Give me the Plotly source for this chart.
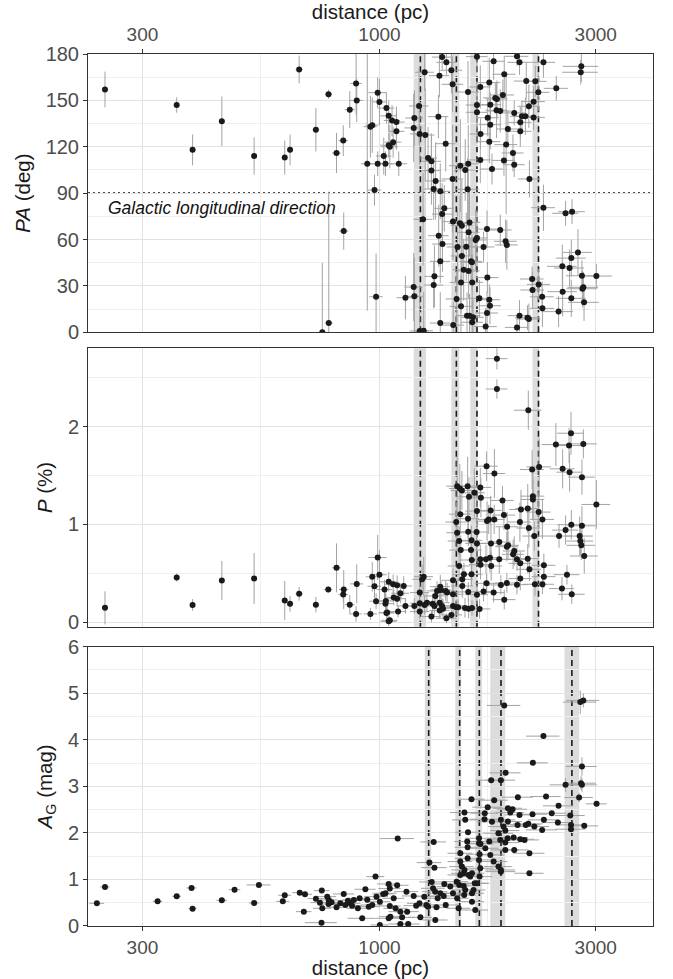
import math
import plotly.graph_objects as go

# ---------------- data ----------------
x_ticks = [300, 1000, 3000]
x_tick_labels = ["300", "1000", "3000"]
x_minor = [547.7, 1732.1]

# components (distance bands, pc) for PA and P panels
pp_bands = [(1190, 1267), (1441, 1500), (1586, 1646), (2176, 2251)]
pp_lines = [1231, 1478, 1641, 2243]
# components for A_G panel
ag_bands = [(1259, 1300), (1470, 1514), (1627, 1684), (1756, 1895), (2560, 2758)]
ag_lines = [1284, 1503, 1661, 1854, 2658]

# ---- PA panel ----
pa_dist = [248, 357, 387, 449, 529, 618, 635, 665, 724, 748,
           772, 773, 804, 832, 834, 860, 888, 891, 940, 955,
           964, 975, 983, 991, 991, 1000, 1022, 1031, 1036, 1048,
           1048, 1066, 1090, 1090, 1054, 1072, 1103,
           1375, 1405, 1641, 1786, 2011, 2037, 2300, 1258, 1441, 1356,
           1450, 1568, 1669, 1747, 1801, 1816, 1872, 1756, 1885, 2108,
           2207, 2241, 2455, 2188, 2136, 2062, 2099, 1983, 2045, 2045,
           1920, 1813, 1847, 1756, 1641, 1641, 1733, 1671, 1747, 1223,
           1194, 1190, 1227, 1262, 1349, 1400, 1903, 1970, 1882, 1983,
           1280, 1302, 1302, 1330, 1317, 1362, 1450, 1508, 1546, 1570,
           1565, 1669, 1771, 2142, 2300, 2574, 2660, 1248, 1375, 1390,
           1453, 1505, 1520, 1580, 1573, 1641, 1630, 1727, 1847, 1898,
           1910, 1351, 1377, 1487, 1554, 1592, 1600, 1520, 1362, 1534,
           1573, 1697, 1322, 1190, 1194, 1317, 1730, 1513, 1602, 2172,
           2245, 2176, 2285, 1141, 1480, 1513, 1661, 1747, 1753, 1727,
           1560, 1580, 1608, 1362, 1227, 1252, 1455, 1602, 1715, 2011,
           2037, 2136, 2121, 2288,
           2788, 2780, 2188, 2741, 2650, 2532, 2627, 2797, 3010, 2817,
           2804, 2536, 2650, 2827, 2484]
pa_deg = [157, 147, 118, 136.5, 114, 113, 118, 170, 131, 0,
          154, 6, 116, 124, 65.5, 144, 161, 150, 109, 133,
          134, 92, 23, 155, 109, 149, 114, 109, 145, 140,
          121, 137, 136, 130, 120, 123, 109,
          178, 174.6, 178.3, 175.3, 178.5, 174.6, 174.6, 168.2, 169.5, 166,
          160.4, 155.4, 158.7, 161.5, 151.6, 150.9, 153.5, 147.2, 166.9, 162.5,
          162.3, 155.2, 157.8, 149.2, 146.2, 139.7, 139.7, 141.9, 135.8, 130,
          131.5, 143.6, 143.1, 134.3, 142.3, 147, 138.8, 128.3, 123.3, 146.4,
          138.6, 132.2, 128.3, 127.6, 139.5, 122, 121.4, 116, 111.2, 108.4,
          112.7, 110.6, 104.6, 97.9, 92.7, 91.2, 99.2, 107.8, 105, 109,
          92.5, 111.5, 105.6, 99.2, 80.6, 77, 78, 73.1, 76.5, 80.2,
          71.6, 70.5, 69, 71.1, 64.7, 61, 59.7, 66.8, 66.2, 58.9,
          56.5, 62.5, 57.1, 55.2, 55.4, 45.9, 45.3, 49.4, 45.9, 40.5,
          39.7, 55.2, 36.2, 29.3, 23.3, 30.6, 35.4, 32.3, 32.3, 34.5,
          31, 27.4, 23, 22.4, 21.6, 16.8, 22, 21.1, 17.2, 12.5,
          10.8, 10.8, 9.7, 6, 0.9, 1, 4.7, 6.5, 3.7, 3.2,
          10.8, 8.6, 9.5, 15.5,
          172, 168.2, 139, 51.7, 48, 42.7, 41.6, 36.6, 36.4, 29.1,
          28.2, 26.3, 22, 19.4, 13.4]
pa_deg_err = [11.6, 5, 10, 16, 12, 11, 10, 9, 14, 45,
              3, 85, 13, 10, 12, 12, 20, 14, 95, 20,
              18, 10, 28, 10, 8, 15, 12, 8, 10, 10,
              8, 10, 10, 12, 14, 10, 8,
              8, 8, 10, 12, 6, 8, 10, 12, 15, 14,
              18, 20, 14, 16, 10, 12, 10, 8, 12, 12,
              10, 12, 8, 10, 14, 10, 12, 8, 10, 10,
              12, 18, 14, 16, 20, 15, 12, 10, 14, 25,
              18, 22, 20, 30, 14, 18, 45, 12, 10, 8,
              20, 18, 22, 25, 20, 18, 35, 30, 20, 25,
              20, 15, 10, 12, 15, 8, 8, 30, 20, 15,
              25, 18, 30, 22, 20, 18, 20, 12, 10, 14,
              16, 20, 18, 25, 22, 15, 18, 16, 14, 20,
              18, 10, 20, 22, 25, 15, 10, 20, 18, 8,
              10, 12, 10, 14, 18, 20, 12, 10, 12, 14,
              15, 14, 12, 20, 30, 25, 15, 14, 12, 8,
              10, 10, 8, 12,
              10, 8, 8, 15, 12, 14, 12, 10, 8, 10,
              12, 16, 12, 12, 10]
pa_dist_err = [3, 4, 4, 5, 6, 8, 8, 12, 12, 14,
               14, 16, 18, 20, 20, 22, 26, 30, 30, 32,
               32, 34, 34, 46, 36, 38, 40, 40, 42, 44,
               44, 44, 46, 46, 44, 46, 48,
               70, 70, 90, 100, 120, 120, 140, 60, 80, 70,
               80, 90, 90, 100, 110, 100, 110, 100, 110, 130,
               130, 130, 150, 130, 120, 120, 120, 110, 120, 120,
               110, 100, 110, 100, 90, 90, 100, 90, 100, 60,
               55, 55, 60, 60, 70, 70, 110, 110, 110, 110,
               60, 65, 65, 70, 65, 70, 80, 85, 85, 90,
               90, 90, 100, 120, 140, 170, 180, 60, 70, 70,
               80, 85, 85, 90, 90, 90, 90, 100, 110, 110,
               110, 70, 70, 80, 85, 90, 90, 85, 70, 85,
               90, 95, 65, 55, 55, 65, 100, 85, 90, 130,
               130, 130, 140, 50, 80, 85, 95, 100, 100, 100,
               85, 90, 90, 70, 60, 60, 80, 90, 100, 120,
               120, 130, 130, 140,
               250, 250, 130, 200, 200, 190, 200, 220, 250, 220,
               220, 190, 200, 220, 190]

# ---- P panel ----
p_dist = [248, 357, 387, 449, 529, 618, 635, 665, 724, 771,
          804, 832, 834, 860, 888, 891, 955, 964, 975, 983,
          991, 1000, 1026, 1031, 1036, 1048, 1048,
          1816, 1816, 2130, 2450, 2620, 2646, 2817, 2536, 2627, 2797,
          3010, 1723, 1793, 2172, 2250, 1484, 1504, 1520, 1565, 1619,
          1669, 1674, 1576, 2180, 2180, 1868, 2052, 2124, 2245, 2288,
          1508, 1641, 1759, 1742, 1727, 1791, 1882, 1913, 2041, 2136,
          2196, 1477, 1568, 1570, 1638, 1596, 1592, 1641, 1484, 1499,
          1511, 1669, 1598, 1718, 1753, 1762, 1764, 1838, 1838, 1910,
          1922, 1983, 1972, 2011, 2045, 2124, 2142, 2305, 2305, 2288,
          2203, 2045, 2011, 1910, 1853, 1786, 1885, 1723, 1697, 1671,
          1663, 1641, 1573, 1570, 1596, 1536, 1523, 1523, 1499, 1453,
          1453, 1453, 1477, 1544, 1600, 1400, 1362, 1367, 1340, 1328,
          1310, 1322, 1358, 1374, 1358, 1302, 1381, 1405, 1273, 1258,
          1252, 1242, 1227, 1227, 1227, 1194, 1141, 1054, 1040, 1033,
          1072, 1094, 1075, 1094, 1131, 1112, 1099, 1441, 1491, 1410,
          2592, 2527, 2656, 2650, 2574, 2490, 2797, 2765, 2774, 2788,
          2830]
p_pct = [0.147, 0.457, 0.177, 0.427, 0.447, 0.222, 0.188, 0.29, 0.18, 0.334,
         0.556, 0.283, 0.334, 0.18, 0.085, 0.392, 0.085, 0.464, 0.368, 0.215,
         0.662, 0.485, 0.334, 0.19, 0.095, 0.413, 0.01,
         2.694, 2.384, 2.167, 1.816, 1.806, 1.932, 1.823, 1.568, 1.534, 1.483,
         1.204, 1.595, 1.52, 1.561, 1.588, 1.391, 1.367, 1.347, 1.391, 1.323,
         1.378, 1.272, 1.282, 1.289, 1.255, 1.245, 1.153, 1.163, 1.126, 1.051,
         1.105, 1.136, 1.143, 1.051, 1.034, 1.051, 1.095, 0.976, 1.024, 0.963,
         0.881, 1.024, 1.058, 0.925, 0.922, 0.837, 0.738, 0.806, 0.915, 0.83,
         0.738, 0.643, 0.636, 0.643, 0.66, 0.806, 0.575, 0.643, 0.82, 0.772,
         0.786, 0.728, 0.694, 0.643, 0.602, 0.65, 0.541, 0.582, 0.466, 0.388,
         0.388, 0.446, 0.384, 0.401, 0.381, 0.303, 0.231, 0.398, 0.313, 0.588,
         0.136, 0.282, 0.139, 0.31, 0.49, 0.49, 0.439, 0.371, 0.575, 0.429,
         0.286, 0.167, 0.153, 0.146, 0.146, 0.32, 0.364, 0.33, 0.32, 0.269,
         0.19, 0.167, 0.2, 0.167, 0.119, 0.058, 0.139, 0.041, 0.2, 0.177,
         0.466, 0.439, 0.303, 0.194, 0.109, 0.167, 0.167, 0.02, 0.099, 0.218,
         0.388, 0.378, 0.252, 0.241, 0.371, 0.296, 0.109, 0.075, 0.153, 0.303,
         0.486, 0.344, 0.286, 0.997, 0.942, 0.881, 0.986, 0.881, 0.83, 0.786,
         0.677]
p_pct_err = [0.17, 0.04, 0.06, 0.2, 0.26, 0.2, 0.08, 0.07, 0.08, 0.03,
             0.25, 0.08, 0.2, 0.1, 0.08, 0.2, 0.06, 0.15, 0.12, 0.08,
             0.23, 0.25, 0.1, 0.1, 0.06, 0.1, 0.05,
             0.11, 0.1, 0.2, 0.22, 0.18, 0.22, 0.15, 0.2, 0.2, 0.18,
             0.25, 0.15, 0.25, 0.2, 0.3, 0.3, 0.25, 0.2, 0.3, 0.25,
             0.2, 0.2, 0.2, 0.25, 0.2, 0.15, 0.2, 0.25, 0.2, 0.2,
             0.2, 0.2, 0.15, 0.15, 0.2, 0.15, 0.15, 0.15, 0.2, 0.2,
             0.15, 0.2, 0.2, 0.15, 0.2, 0.15, 0.15, 0.2, 0.2, 0.15,
             0.15, 0.15, 0.15, 0.15, 0.15, 0.2, 0.15, 0.15, 0.15, 0.15,
             0.15, 0.15, 0.15, 0.12, 0.12, 0.15, 0.12, 0.12, 0.12, 0.1,
             0.12, 0.12, 0.1, 0.1, 0.1, 0.1, 0.1, 0.1, 0.1, 0.15,
             0.1, 0.1, 0.1, 0.1, 0.12, 0.12, 0.12, 0.12, 0.15, 0.12,
             0.1, 0.08, 0.08, 0.1, 0.08, 0.1, 0.12, 0.1, 0.1, 0.1,
             0.1, 0.1, 0.1, 0.08, 0.08, 0.06, 0.1, 0.05, 0.1, 0.1,
             0.2, 0.15, 0.1, 0.1, 0.08, 0.08, 0.08, 0.04, 0.06, 0.1,
             0.1, 0.1, 0.08, 0.08, 0.1, 0.1, 0.06, 0.05, 0.08, 0.1,
             0.1, 0.12, 0.1, 0.15, 0.15, 0.12, 0.2, 0.2, 0.15, 0.15,
             0.18]
p_dist_err = [3, 4, 4, 5, 6, 8, 8, 12, 12, 16,
              18, 20, 20, 22, 26, 30, 32, 32, 34, 34,
              46, 38, 40, 40, 42, 44, 44,
              100, 100, 150, 170, 170, 180, 200, 160, 170, 190,
              220, 100, 100, 130, 140, 80, 80, 85, 90, 90,
              95, 95, 90, 130, 130, 110, 120, 130, 140, 140,
              85, 95, 100, 100, 100, 100, 110, 110, 120, 130,
              130, 80, 90, 90, 95, 90, 90, 95, 80, 85,
              85, 95, 90, 100, 100, 100, 100, 110, 110, 110,
              110, 110, 110, 120, 120, 130, 130, 140, 140, 140,
              130, 120, 120, 110, 110, 100, 110, 100, 95, 95,
              95, 95, 90, 90, 90, 85, 85, 85, 85, 80,
              80, 80, 80, 85, 90, 75, 70, 70, 70, 70,
              65, 70, 70, 70, 70, 65, 70, 75, 65, 60,
              60, 60, 60, 60, 60, 55, 50, 42, 40, 40,
              45, 48, 45, 48, 50, 50, 48, 80, 85, 75,
              170, 160, 180, 180, 170, 160, 200, 190, 190, 200,
              200]

# ---- A_G panel ----
ag_dist = [238, 248, 324, 357, 385, 387, 449, 479, 529, 542,
           612, 618, 667, 685, 681, 724, 746, 739, 748, 745,
           767, 773, 784, 804, 834, 820, 841, 852, 863, 878,
           896, 904, 916, 931, 940, 947, 964, 980, 985, 1002,
           1002, 1019, 1031, 1048, 1048,
           1054, 1094, 1097, 1075, 1054, 1085, 1112, 1057, 1122, 1112,
           1157, 1151, 1147, 1190, 1205, 1225, 1231, 1256, 1269, 1280,
           1289, 1322, 1317, 1304, 1313, 1327, 1328, 1336, 1344, 1362,
           1390, 1386, 1400, 1433, 1453, 772, 870,
           1885, 2300, 2774, 2817, 2180, 2797, 1898, 1764, 1853, 2574,
           2784, 2797, 3013, 2757, 2331, 2020, 1791, 1596, 1733, 1707,
           1705, 1540, 1920, 1966, 1944, 2037, 1920, 2017, 2103, 2130,
           2176, 2196, 2285, 2305, 2399, 2484, 2475, 2636, 2646, 2646,
           2830, 1853, 1878, 1771, 1895, 1830, 1917, 1977, 2045, 2090,
           2142, 2142, 1895, 1983, 1895, 1847, 1747, 1712, 1756, 1786,
           1830, 1853, 1853, 1658, 1658, 1663, 1671, 1568, 1562, 1565,
           1546, 1658, 1669, 1663, 1627, 1622, 1600, 1565, 1508, 1508,
           1520, 1534, 1540, 1508, 1500, 1480, 1600, 1600, 1641, 1573,
           1546, 1495, 1484, 1538, 1534, 1613, 1586]
ag_mag = [0.487, 0.839, 0.53, 0.638, 0.817, 0.373, 0.552, 0.781, 0.495, 0.882,
          0.53, 0.66, 0.717, 0.681, 0.308, 0.588, 0.76, 0.502, 0.38, 0.072,
          0.631, 0.559, 0.509, 0.401, 0.688, 0.487, 0.452, 0.545, 0.487, 0.559,
          0.38, 0.595, 0.165, 0.789, 0.566, 0.416, 0.452, 1.061, 0.631, 0.523,
          0.022, 0.688, 0.703, 0.903, 0.165,
          0.803, 0.875, 1.878, 0.595, 0.43, 0.38, 0.308, 0.201, 0.186, 0.043,
          0.043, 0.308, 0.738, 0.645, 0.437, 0.487, 0.186, 0.631, 0.452, 0.416,
          1.362, 1.254, 1.806, 0.946, 0.81, 0.738, 0.129, 0.401, 0.595, 0.703,
          0.903, 0.645, 0.452, 0.846, 0.703, 0.473, 0.437,
          4.738, 4.079, 4.81, 4.846, 3.505, 3.427, 3.29, 3.133, 3.133, 3.032,
          3.068, 3.032, 2.624, 2.76, 2.781, 2.767, 2.703, 2.724, 2.552, 2.423,
          2.294, 2.437, 2.53, 2.509, 2.437, 2.387, 2.244, 2.172, 2.172, 2.194,
          2.401, 2.136, 2.065, 2.28, 2.423, 2.581, 2.222, 2.373, 2.172, 2.079,
          2.151, 2.28, 2.136, 2.237, 2.05, 1.993, 1.885, 1.9, 1.864, 1.849,
          1.563, 1.133, 1.634, 1.634, 1.792, 1.849, 1.814, 1.67, 1.527, 1.384,
          1.276, 1.204, 1.168, 1.885, 1.778, 1.541, 1.763, 2.014, 1.814, 1.692,
          2.28, 1.419, 1.24, 1.061, 0.344, 0.918, 1.133, 1.455, 1.563, 1.384,
          1.276, 1.133, 1.204, 1.097, 0.882, 0.953, 0.703, 0.523, 0.918, 1.097,
          0.774, 0.38, 0.595, 0.667, 0.86, 0.774, 1.061]
ag_mag_err = [0.02, 0.02, 0.02, 0.02, 0.02, 0.02, 0.02, 0.02, 0.02, 0.02,
              0.02, 0.02, 0.02, 0.02, 0.02, 0.02, 0.02, 0.02, 0.02, 0.02,
              0.02, 0.02, 0.02, 0.02, 0.02, 0.02, 0.02, 0.02, 0.02, 0.02,
              0.02, 0.02, 0.02, 0.02, 0.02, 0.02, 0.02, 0.02, 0.02, 0.02,
              0.02, 0.02, 0.02, 0.02, 0.02,
              0.03, 0.03, 0.05, 0.03, 0.03, 0.03, 0.03, 0.03, 0.03, 0.03,
              0.03, 0.03, 0.03, 0.03, 0.03, 0.03, 0.03, 0.03, 0.03, 0.03,
              0.04, 0.04, 0.05, 0.03, 0.03, 0.03, 0.03, 0.03, 0.03, 0.03,
              0.03, 0.03, 0.03, 0.03, 0.03, 0.03, 0.03,
              0.05, 0.05, 0.25, 0.15, 0.05, 0.2, 0.05, 0.05, 0.05, 0.15,
              0.15, 0.15, 0.05, 0.1, 0.05, 0.05, 0.05, 0.05, 0.05, 0.05,
              0.04, 0.04, 0.04, 0.04, 0.04, 0.04, 0.04, 0.04, 0.04, 0.04,
              0.04, 0.04, 0.04, 0.04, 0.04, 0.04, 0.04, 0.04, 0.04, 0.04,
              0.04, 0.04, 0.04, 0.04, 0.04, 0.04, 0.04, 0.04, 0.04, 0.04,
              0.04, 0.04, 0.04, 0.04, 0.04, 0.04, 0.04, 0.04, 0.04, 0.04,
              0.04, 0.04, 0.04, 0.04, 0.04, 0.04, 0.04, 0.04, 0.04, 0.04,
              0.04, 0.04, 0.04, 0.04, 0.04, 0.04, 0.04, 0.04, 0.04, 0.04,
              0.04, 0.04, 0.04, 0.04, 0.04, 0.04, 0.04, 0.04, 0.04, 0.04,
              0.04, 0.04, 0.04, 0.04, 0.04, 0.04, 0.04]
ag_dist_err = [9, 6, 8, 8, 10, 8, 12, 14, 14, 33,
               20, 20, 25, 25, 27, 30, 30, 35, 35, 60,
               35, 35, 40, 40, 45, 40, 45, 45, 45, 50,
               50, 50, 65, 50, 50, 55, 55, 45, 60, 55,
               45, 55, 60, 60, 65,
               60, 65, 95, 60, 60, 65, 65, 60, 70, 65,
               70, 70, 70, 70, 75, 75, 75, 75, 80, 80,
               80, 85, 85, 80, 80, 85, 85, 85, 85, 90,
               90, 90, 90, 95, 95, 40, 45,
               160, 195, 235, 235, 170, 220, 150, 130, 140, 200,
               220, 220, 160, 200, 180, 160, 130, 110, 130, 120,
               120, 110, 140, 150, 140, 150, 140, 150, 160, 160,
               170, 170, 180, 180, 190, 190, 190, 200, 200, 200,
               210, 140, 140, 130, 140, 140, 140, 150, 150, 160,
               170, 160, 140, 150, 140, 140, 130, 120, 130, 130,
               130, 140, 140, 115, 115, 110, 115, 100, 100, 100,
               100, 110, 110, 110, 110, 110, 105, 100, 95, 95,
               95, 95, 100, 95, 90, 90, 100, 100, 105, 100,
               100, 90, 90, 95, 95, 100, 100]

for arrs in [(pa_dist, pa_deg, pa_deg_err, pa_dist_err),
             (p_dist, p_pct, p_pct_err, p_dist_err),
             (ag_dist, ag_mag, ag_mag_err, ag_dist_err)]:
    n = len(arrs[0])
    assert all(len(a) == n for a in arrs), [len(a) for a in arrs]

# ---------------- style ----------------
FONT = "Liberation Sans, Arial, Helvetica, sans-serif"
TICK_FONT = dict(family=FONT, size=20, color="#4d4d4d")
XTICK_FONT = dict(family=FONT, size=19, color="#4d4d4d")
TITLE_FONT = dict(family=FONT, size=20.5, color="#1a1a1a")
MAJOR_GRID = "#e3e3e3"
MINOR_GRID = "#efefef"
ERR_COLOR = "#a3a3a3"
PT_COLOR = "#1a1a1a"
BORDER = "#333333"
BAND_COLOR = "#dcdcdc"
X_RANGE = [math.log10(227.5), math.log10(4013)]

fig = go.Figure()


def add_panel(x, y, xe, ye, xa, ya):
    fig.add_trace(go.Scatter(
        x=x, y=y, mode="markers", xaxis=xa, yaxis=ya,
        marker=dict(size=6, color=PT_COLOR),
        error_x=dict(type="data", array=xe, color=ERR_COLOR, thickness=1, width=0),
        error_y=dict(type="data", array=ye, color=ERR_COLOR, thickness=1, width=0),
        showlegend=False, hoverinfo="skip"))


add_panel(pa_dist, pa_deg, pa_dist_err, pa_deg_err, "x", "y")
add_panel(p_dist, p_pct, p_dist_err, p_pct_err, "x2", "y2")
add_panel(ag_dist, ag_mag, ag_dist_err, ag_mag_err, "x3", "y3")

shapes = []


def add_components(bands, lines, xref, yref):
    for b0, b1 in bands:
        shapes.append(dict(type="rect", xref=xref, yref=yref + " domain",
                           x0=b0, x1=b1, y0=0, y1=1, fillcolor=BAND_COLOR,
                           line=dict(width=0), layer="below"))
    for xv in lines:
        shapes.append(dict(type="line", xref=xref, yref=yref + " domain",
                           x0=xv, x1=xv, y0=0, y1=1,
                           line=dict(color="#1a1a1a", width=1.6, dash="6px,4px"),
                           layer="below"))


add_components(pp_bands, pp_lines, "x", "y")
add_components(pp_bands, pp_lines, "x2", "y2")
add_components(ag_bands, ag_lines, "x3", "y3")

shapes.append(dict(type="line", xref="x domain", yref="y", x0=0, x1=1, y0=90, y1=90,
                   line=dict(color="#111111", width=1.6, dash="2px,3px"), layer="below"))


def xaxis(anchor, side, labels, title=None, standoff=4):
    d = dict(type="log", range=X_RANGE, anchor=anchor, side=side, automargin=False,
             tickvals=x_ticks, ticktext=x_tick_labels, showticklabels=labels,
             ticks="outside" if labels else "", ticklen=4, tickcolor=BORDER,
             showgrid=True, gridcolor=MAJOR_GRID, gridwidth=1.3,
             minor=dict(tickvals=x_minor, showgrid=True, gridcolor=MINOR_GRID,
                        gridwidth=0.8, ticks=""),
             showline=True, mirror=True, linecolor=BORDER, linewidth=1,
             zeroline=False, tickfont=XTICK_FONT)
    if title:
        d["title"] = dict(text=title, font=TITLE_FONT, standoff=standoff)
    return d


def yaxis(domain, rng, ticks, minor_ticks, title):
    return dict(domain=domain, range=rng, tickvals=ticks, automargin=False,
                ticks="outside", ticklen=4, tickcolor=BORDER,
                showgrid=True, gridcolor=MAJOR_GRID, gridwidth=1.3,
                minor=dict(tickvals=minor_ticks, showgrid=True, gridcolor=MINOR_GRID,
                           gridwidth=0.8, ticks=""),
                showline=True, mirror=True, linecolor=BORDER, linewidth=1,
                zeroline=False, tickfont=TICK_FONT,
                title=dict(text=title, font=TITLE_FONT, standoff=9))


fig.update_layout(
    width=673, height=979,
    margin=dict(l=88, r=20, t=54, b=53),
    paper_bgcolor="white", plot_bgcolor="white",
    font=dict(family=FONT),
    xaxis=xaxis("y", "top", True, "distance (pc)", 5),
    xaxis2=xaxis("y2", "bottom", False),
    xaxis3=xaxis("y3", "bottom", True, "distance (pc)", 6),
    yaxis=yaxis([0.6808, 1.0], [0, 180], [0, 30, 60, 90, 120, 150, 180],
                [15, 45, 75, 105, 135, 165], "<i>PA</i> (deg)"),
    yaxis2=yaxis([0.3433, 0.6625], [-0.045, 2.80], [0, 1, 2],
                 [0.5, 1.5, 2.5], "<i>P</i> (%)"),
    yaxis3=yaxis([0.0, 0.3203], [0, 6], [0, 1, 2, 3, 4, 5, 6],
                 [0.5, 1.5, 2.5, 3.5, 4.5, 5.5], "<i>A</i><sub>G</sub> (mag)"),
    shapes=shapes,
    annotations=[dict(text="<i>Galactic longitudinal direction</i>",
                      xref="x domain", yref="y", x=0.031, y=80.5,
                      xanchor="left", yanchor="middle", showarrow=False,
                      font=dict(family=FONT, size=17.5, color="#111111"))],
)

fig.write_html("out.html")
